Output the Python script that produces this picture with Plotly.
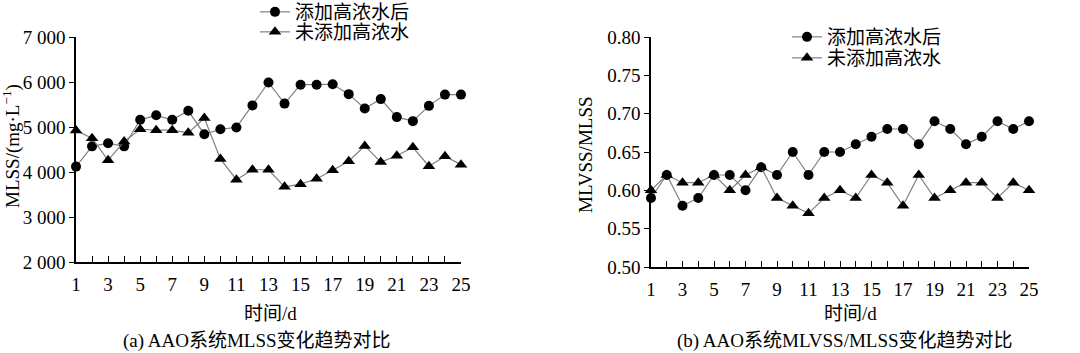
import plotly.graph_objects as go

days = list(range(1, 26))
mlss_after = [4120, 4570, 4640, 4570, 5160, 5260, 5160, 5360, 4840, 4950, 4990, 5480, 5990, 5520, 5940, 5940, 5950, 5730, 5410, 5620, 5220, 5130, 5470, 5720, 5720]
mlss_before = [4920, 4750, 4260, 4680, 4950, 4930, 4930, 4870, 5200, 4290, 3830, 4050, 4050, 3670, 3730, 3850, 4040, 4240, 4580, 4220, 4360, 4550, 4130, 4350, 4160]
ratio_after = [0.59, 0.62, 0.58, 0.59, 0.62, 0.62, 0.60, 0.63, 0.62, 0.65, 0.62, 0.65, 0.65, 0.66, 0.67, 0.68, 0.68, 0.66, 0.69, 0.68, 0.66, 0.67, 0.69, 0.68, 0.69]
ratio_before = [0.60, 0.62, 0.61, 0.61, 0.62, 0.60, 0.62, 0.63, 0.59, 0.58, 0.57, 0.59, 0.60, 0.59, 0.62, 0.61, 0.58, 0.62, 0.59, 0.60, 0.61, 0.61, 0.59, 0.61, 0.60]

name_after = "添加高浓水后"
name_before = "未添加高浓水"
x_tickvals = days
x_ticktext = [str(d) if d % 2 == 1 else "" for d in days]
y1_tickvals = [2000, 3000, 4000, 5000, 6000, 7000]
y1_ticktext = ["2 000", "3 000", "4 000", "5 000", "6 000", "7 000"]
y2_tickvals = [0.50, 0.55, 0.60, 0.65, 0.70, 0.75, 0.80]
y2_ticktext = ["0.50", "0.55", "0.60", "0.65", "0.70", "0.75", "0.80"]

FONT = "Liberation Serif, Times New Roman, Noto Sans CJK SC, serif"
FS = 19
W, H = 1080, 353

fig = go.Figure()
line_style = dict(color="#7f7f7f", width=1.2)
for xa, ya, la, lb, ya_data, yb_data in [("x", "y", "legend", "legend2", mlss_after, mlss_before),
                                         ("x2", "y2", "legend3", "legend4", ratio_after, ratio_before)]:
    fig.add_trace(go.Scatter(x=days, y=ya_data, name=name_after, mode="lines+markers",
                             line=line_style, marker=dict(symbol="circle", size=10, color="black"),
                             xaxis=xa, yaxis=ya, legend=la, cliponaxis=False, showlegend=True))
    fig.add_trace(go.Scatter(x=days, y=yb_data, name=name_before, mode="lines+markers",
                             line=line_style, marker=dict(symbol="triangle-up", size=11, color="black"),
                             xaxis=xa, yaxis=ya, legend=lb, cliponaxis=False, showlegend=True))

axis_common = dict(showline=True, linecolor="black", linewidth=1.5, showgrid=False, zeroline=False,
                   tickfont=dict(family=FONT, size=FS, color="black"), tickcolor="black", automargin=False)


def leg(xpx, row_center_px):
    return dict(x=xpx / W, y=1 - row_center_px / H, xanchor="left", yanchor="middle", bgcolor="rgba(0,0,0,0)",
                font=dict(family=FONT, size=FS, color="black"), itemwidth=30)


fig.update_layout(
    width=W, height=H, margin=dict(l=0, r=0, t=0, b=0, autoexpand=False),
    paper_bgcolor="white", plot_bgcolor="white", showlegend=True,
    font=dict(family=FONT, color="black", size=FS),
    xaxis=dict(domain=[76 / W, 461 / W], range=[1, 25], tickvals=x_tickvals, ticktext=x_ticktext,
               ticks="inside", ticklen=6, ticklabelstandoff=4, anchor="y", **axis_common),
    yaxis=dict(domain=[(H - 262) / H, (H - 37) / H], range=[2000, 7000], tickvals=y1_tickvals,
               ticktext=y1_ticktext, ticks="outside", ticklen=5, anchor="x", **axis_common),
    xaxis2=dict(domain=[651 / W, 1029 / W], range=[1, 25], tickvals=x_tickvals, ticktext=x_ticktext,
                ticks="inside", ticklen=6, ticklabelstandoff=4, anchor="y2", **axis_common),
    yaxis2=dict(domain=[(H - 267) / H, (H - 37) / H], range=[0.50, 0.80], tickvals=y2_tickvals,
                ticktext=y2_ticktext, ticks="outside", ticklen=5, anchor="x2", **axis_common),
    legend=leg(255, 12),
    legend2=leg(255, 32),
    legend3=leg(787, 37),
    legend4=leg(787, 58),
    annotations=[
        dict(text="时间/d", x=270 / W, y=1 - 313 / H, xref="paper", yref="paper", showarrow=False,
             font=dict(size=FS), xanchor="center", yanchor="middle"),
        dict(text="(a) AAO系统MLSS变化趋势对比", x=257 / W, y=1 - 341 / H, xref="paper", yref="paper",
             showarrow=False, font=dict(size=FS), xanchor="center", yanchor="middle"),
        dict(text="MLSS/(mg·L<sup>−1</sup>)", x=11 / W, y=1 - 146 / H, xref="paper", yref="paper",
             showarrow=False, font=dict(size=FS), textangle=-90, xanchor="center", yanchor="middle"),
        dict(text="时间/d", x=850 / W, y=1 - 313 / H, xref="paper", yref="paper", showarrow=False,
             font=dict(size=FS), xanchor="center", yanchor="middle"),
        dict(text="(b) AAO系统MLVSS/MLSS变化趋势对比", x=845 / W, y=1 - 341 / H, xref="paper", yref="paper",
             showarrow=False, font=dict(size=FS), xanchor="center", yanchor="middle"),
        dict(text="MLVSS/MLSS", x=585 / W, y=1 - 155 / H, xref="paper", yref="paper",
             showarrow=False, font=dict(size=FS), textangle=-90, xanchor="center", yanchor="middle"),
    ],
)

fig.write_html("out.html")
